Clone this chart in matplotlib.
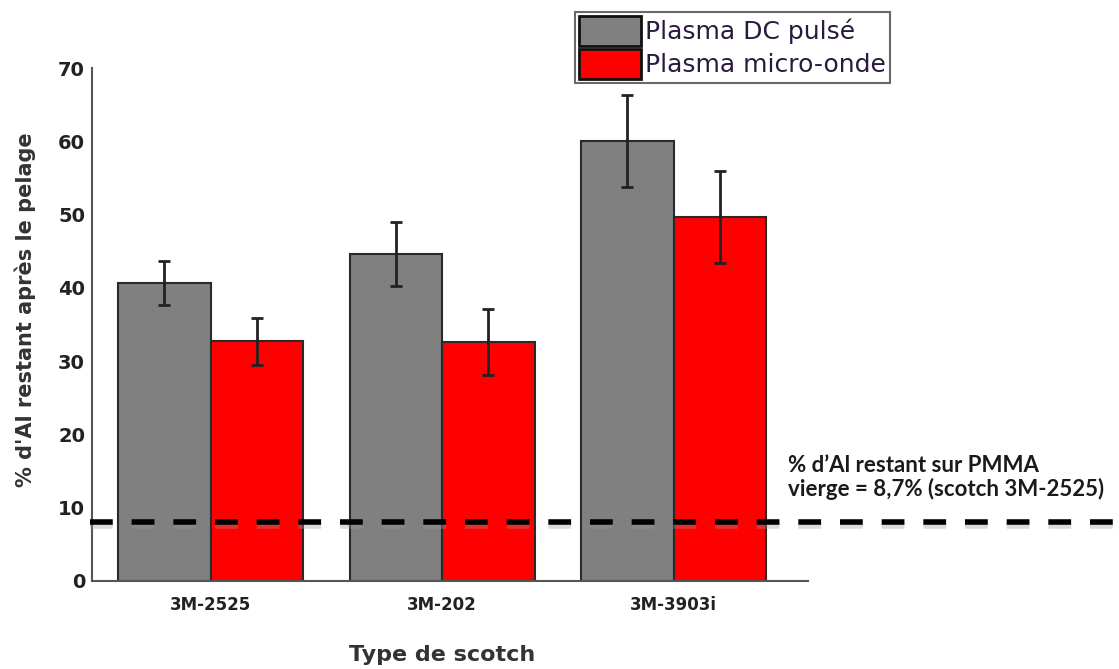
import numpy as np
from matplotlib import pyplot as plt
from matplotlib import rcParams
from matplotlib.transforms import blended_transform_factory

rcParams['font.family'] = 'sans-serif'
rcParams['font.sans-serif'] = ['DejaVu Sans']

#%% data
scotch = ['3M-2525', '3M-202', '3M-3903i']
dc_pulse = [40.7, 44.6, 60.0]
dc_err = [3.0, 4.4, 6.3]
micro_onde = [32.7, 32.6, 49.7]
mo_err = [3.2, 4.5, 6.3]
ref_level = 8.0   # ligne pointillée (PMMA vierge)

#%%
fig = plt.figure(figsize=(11.19, 6.69), dpi=100)
ax = fig.add_axes([92/1119, 1-581/669, (808-92)/1119, (581-68)/669])

x = np.arange(len(scotch))
w = 0.4
ekw = dict(ecolor='#222222', elinewidth=2, capsize=4.5, capthick=2)
ax.bar(x-w/2, dc_pulse, w, yerr=dc_err, color='#808080', edgecolor='#2a2a2a',
       linewidth=1.5, error_kw=ekw, label='Plasma DC pulsé', zorder=2)
ax.bar(x+w/2, micro_onde, w, yerr=mo_err, color='#ff0000', edgecolor='#2a2a2a',
       linewidth=1.5, error_kw=ekw, label='Plasma micro-onde', zorder=2)

# ligne de référence, dépasse les axes
tr = blended_transform_factory(ax.transAxes, ax.transData)
xs = [-0.003, 1.44]
ax.plot(xs, [ref_level-0.5]*2, transform=tr, clip_on=False,
        color='#999999', lw=4, dashes=(4.1, 3.4), alpha=0.35, zorder=4)
ax.plot(xs, [ref_level]*2, transform=tr, clip_on=False,
        color='k', lw=4, dashes=(4.1, 3.4), zorder=5)
ax.text(0.972, 0.158, '% d\u2019Al restant sur PMMA\nvierge = 8,7% (scotch 3M-2525)',
        transform=ax.transAxes, fontsize=16, fontweight='bold', family='Lato',
        color='#1a1a1a', linespacing=1.1, va='bottom', ha='left')

ax.set_xlim(-0.512, 2.58)
ax.set_ylim(0, 70)
ax.set_yticks(np.arange(0, 71, 10))
ax.set_xticks(x)
ax.set_xticklabels(scotch, fontsize=12, fontweight='bold')
ax.tick_params(axis='y', length=0, pad=5, labelsize=14, labelcolor='#222222')
ax.tick_params(axis='x', length=0, pad=11, labelcolor='#222222')
for lab in ax.get_yticklabels():
    lab.set_fontweight('bold')

for s in ['top', 'right']:
    ax.spines[s].set_visible(False)
for s in ['left', 'bottom']:
    ax.spines[s].set_color('#555555')
    ax.spines[s].set_linewidth(1.5)

ax.set_ylabel('% d\'Al restant après le pelage', fontsize=15, fontweight='bold',
              color='#333333')
ax.yaxis.set_label_coords(-0.078, 0.528)
ax.text(0.489, -0.144, 'Type de scotch', transform=ax.transAxes, fontsize=16,
        fontweight='bold', color='#333333', ha='center', va='center')

leg = ax.legend(loc='upper left', bbox_to_anchor=(575/1119, 1-12/669),
                bbox_transform=fig.transFigure, frameon=True,
                prop={'family': 'DejaVu Sans', 'size': 18},
                fancybox=False, handlelength=2.5, handleheight=1.5,
                handletextpad=0.15, labelspacing=0.1, borderpad=0.15,
                borderaxespad=0)
leg.get_frame().set_edgecolor('#444444')
leg.get_frame().set_linewidth(1.5)
for t in leg.get_texts():
    t.set_color('#2a1a40')
for p in leg.get_patches():
    p.set_linewidth(2)
    p.set_edgecolor('#111111')

fig.savefig('out.png', dpi=100)
